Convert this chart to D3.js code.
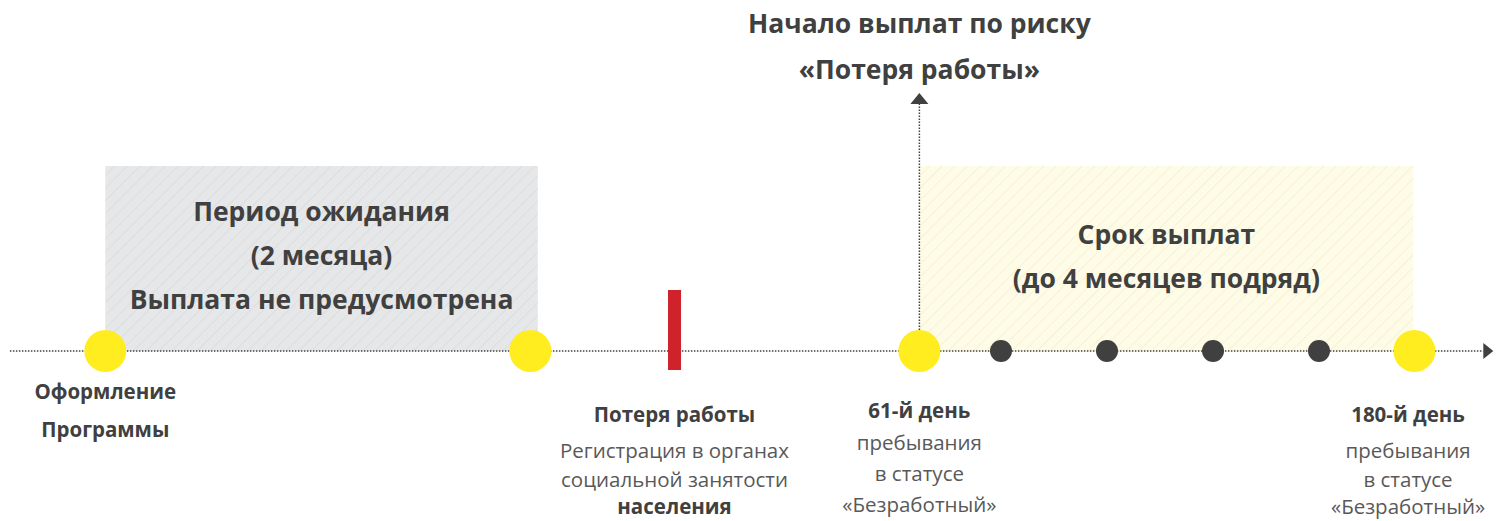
<!DOCTYPE html>
<html>
<head>
<meta charset="utf-8">
<script src="https://cdn.jsdelivr.net/npm/d3@7"></script>
<style>
  body { margin: 0; background: #fff; }
  svg { display: block; font-family: "Open Sans", "Noto Sans", sans-serif; }
</style>
</head>
<body>
<svg id="chart" width="1496" height="521"></svg>
<script>
// schematic timeline, in "steps" (one step = one dark month marker)
var axisExtent = [-0.35, 13.55];
var milestones = [0.55, 4.56, 8.23, 12.9];          // yellow circles
var monthTicks = [9, 10, 11, 12];                   // dark dots
var jobLoss = 5.92;                                  // red bar
var periods = [
  { from: 0.55, to: 4.63, fill: "#e6e7e8", hatch: "#d6d7d8",
    lines: ["Период ожидания", "(2 месяца)", "Выплата не предусмотрена"], y0: 212 },
  { from: 8.23, to: 12.89, fill: "#fefbe7", hatch: "#f1edcf",
    lines: ["Срок выплат", "(до 4 месяцев подряд)"], y0: 235 }
];
var headline = ["Начало выплат по риску", "«Потеря работы»"];
var labels = [
  { at: 0.55, rowsY: [392, 430], rows: [["Оформление", true], ["Программы", true]] },
  { at: 5.92, rowsY: [415, 451, 480, 507], rows: [["Потеря работы", true], ["Регистрация в органах", false], ["социальной занятости", false], ["населения", true]] },
  { at: 8.23, rowsY: [411, 443, 474, 505], rows: [["61-й день", true], ["пребывания", false], ["в статусе", false], ["«Безработный»", false]] },
  { at: 12.84, rowsY: [415, 451, 480, 507], rows: [["180-й день", true], ["пребывания", false], ["в статусе", false], ["«Безработный»", false]] }
];

var svg = d3.select("#chart");
var x = d3.scaleLinear().domain([0, 1]).range([47, 153]);
var axisY = 351, boxTop = 166;
var dark = "#404040";
var bigFont = 26.5, smallFont = 20.5;

// hatch patterns
var defs = svg.append("defs");
periods.forEach(function(p, i) {
  var pat = defs.append("pattern")
    .attr("id", "hatch" + i)
    .attr("patternUnits", "userSpaceOnUse")
    .attr("width", 9).attr("height", 9)
    .attr("patternTransform", "rotate(45)");
  pat.append("rect").attr("width", 9).attr("height", 9).attr("fill", p.fill);
  pat.append("line").attr("x1", 0).attr("y1", 0).attr("x2", 0).attr("y2", 9)
    .attr("stroke", p.hatch).attr("stroke-width", 1.2);
});

// period boxes
var box = svg.selectAll(".period").data(periods).enter().append("g").attr("class", "period");
box.append("rect")
  .attr("x", function(d) { return x(d.from); })
  .attr("y", boxTop)
  .attr("width", function(d) { return x(d.to) - x(d.from); })
  .attr("height", axisY - boxTop)
  .attr("fill", function(d, i) { return "url(#hatch" + i + ")"; });
box.each(function(d) {
  var g = d3.select(this);
  d.lines.forEach(function(t, j) {
    g.append("text")
      .attr("x", (x(d.from) + x(d.to)) / 2)
      .attr("y", d.y0 + j * 44)
      .attr("dy", "0.35em")
      .attr("text-anchor", "middle")
      .attr("font-size", bigFont).attr("font-weight", 700)
      .attr("fill", dark)
      .text(t);
  });
});

// main axis line + arrow
svg.append("line")
  .attr("x1", x(axisExtent[0])).attr("x2", x(axisExtent[1]))
  .attr("y1", axisY).attr("y2", axisY)
  .attr("stroke", dark).attr("stroke-width", 1.5)
  .attr("stroke-dasharray", "1.5,1.5");
var ax = x(axisExtent[1]);
svg.append("path")
  .attr("d", "M" + ax + "," + (axisY - 8) + "L" + (ax + 10) + "," + axisY + "L" + ax + "," + (axisY + 8) + "Z")
  .attr("fill", dark);

// vertical arrow at start of payments
var vx = x(milestones[2]);
svg.append("line")
  .attr("x1", vx).attr("x2", vx).attr("y1", axisY).attr("y2", 104)
  .attr("stroke", dark).attr("stroke-width", 1.5)
  .attr("stroke-dasharray", "1.5,1.5");
svg.append("path")
  .attr("d", "M" + (vx - 9) + ",104L" + vx + ",93L" + (vx + 9) + ",104Z")
  .attr("fill", dark);

headline.forEach(function(t, j) {
  svg.append("text")
    .attr("x", vx).attr("y", 24 + j * 46).attr("dy", "0.35em")
    .attr("text-anchor", "middle")
    .attr("font-size", bigFont).attr("font-weight", 700)
    .attr("fill", dark).text(t);
});

// red job-loss bar
svg.append("rect")
  .attr("x", x(jobLoss) - 6.5).attr("y", 290)
  .attr("width", 13).attr("height", 80)
  .attr("fill", "#d0222a");

// month dots
svg.selectAll(".month").data(monthTicks).enter().append("circle")
  .attr("class", "month")
  .attr("cx", function(d) { return x(d); }).attr("cy", axisY)
  .attr("r", 11).attr("fill", dark);

// milestone circles
svg.selectAll(".milestone").data(milestones).enter().append("circle")
  .attr("class", "milestone")
  .attr("cx", function(d) { return x(d); }).attr("cy", axisY)
  .attr("r", 21).attr("fill", "#ffed1f");

// labels under the axis
labels.forEach(function(l) {
  l.rows.forEach(function(r, j) {
    svg.append("text")
      .attr("x", x(l.at)).attr("y", l.rowsY[j])
      .attr("dy", "0.35em")
      .attr("text-anchor", "middle")
      .attr("font-size", smallFont)
      .attr("font-weight", r[1] ? 700 : 400)
      .attr("fill", r[1] ? dark : "#595959")
      .text(r[0]);
  });
});
</script>
</body>
</html>
